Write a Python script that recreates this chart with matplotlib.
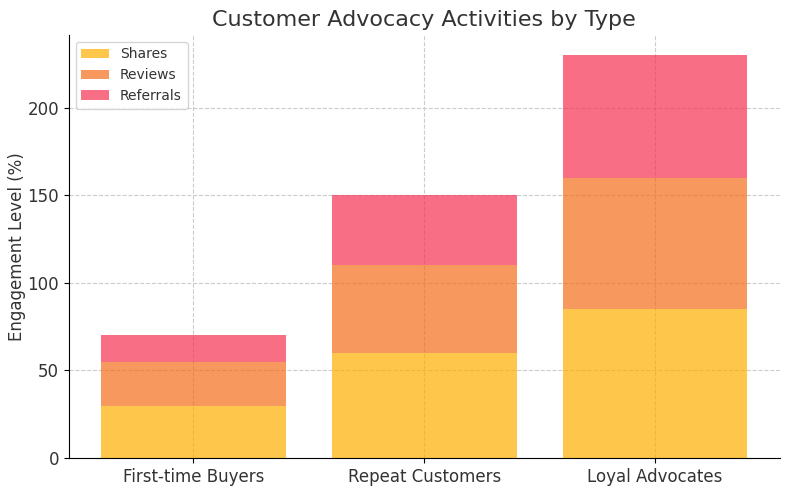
import numpy as np
import matplotlib.pyplot as plt

categories = ['First-time Buyers', 'Repeat Customers', 'Loyal Advocates']
shares = [30, 60, 85]
reviews = [25, 50, 75]
referrals = [15, 40, 70]

plt.rcParams['text.color'] = '#333333'
plt.rcParams['axes.labelcolor'] = '#333333'
plt.rcParams['xtick.labelcolor'] = '#333333'
plt.rcParams['ytick.labelcolor'] = '#333333'

fig, ax = plt.subplots(figsize=(7.9, 4.9), dpi=100)
x = np.arange(len(categories))
shares = np.array(shares)
reviews = np.array(reviews)
referrals = np.array(referrals)

ax.bar(x, shares, color='#FFAE00', alpha=0.7, label='Shares', width=0.8)
ax.bar(x, reviews, bottom=shares, color='#F46C1A', alpha=0.7, label='Reviews', width=0.8)
ax.bar(x, referrals, bottom=shares + reviews, color='#F43152', alpha=0.7, label='Referrals', width=0.8)

ax.set_xticks(x)
ax.set_xticklabels(categories, fontsize=12)
ax.set_xlim(-0.54, 2.54)
ax.set_ylabel('Engagement Level (%)', fontsize=12, labelpad=1)
ax.set_title('Customer Advocacy Activities by Type', fontsize=16)
ax.grid(True, linestyle='--', color='#cccccc', linewidth=0.8)
ax.set_axisbelow(True)
for s in ['top', 'right']:
    ax.spines[s].set_visible(False)
ax.tick_params(labelsize=12)
ax.legend(loc='upper left', fontsize=10)

plt.subplots_adjust(left=0.087, right=0.987, bottom=0.065, top=0.929)
plt.savefig('out.png')
